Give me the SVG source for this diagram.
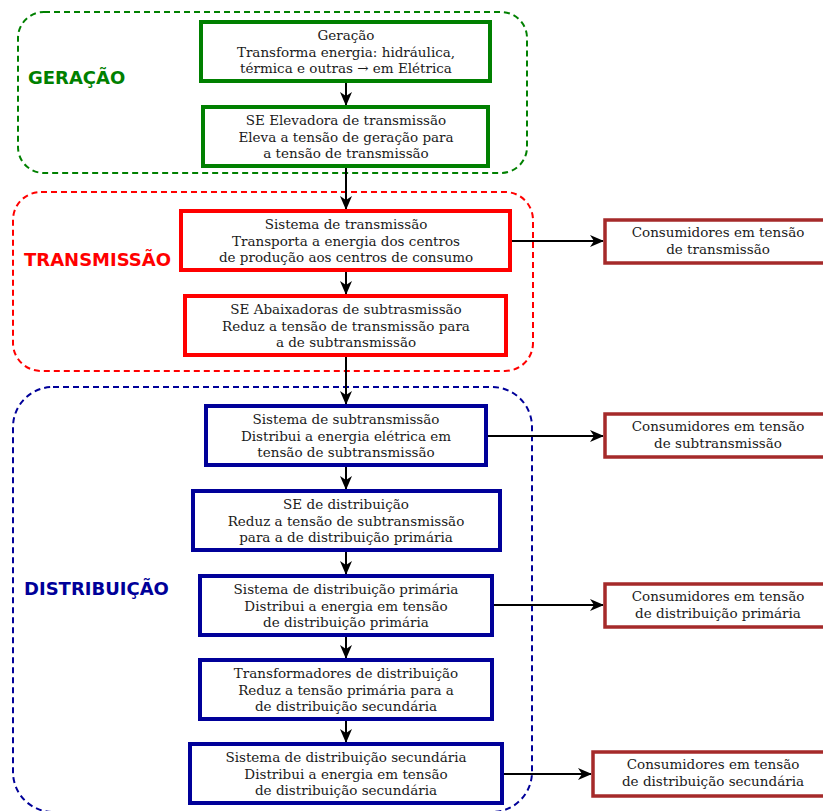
<svg xmlns="http://www.w3.org/2000/svg" width="823" height="811" viewBox="0 0 823 811">
  <style>
    .grp { fill: none; stroke-width: 2; stroke-dasharray: 6 4; }
    .box { fill: #ffffff; stroke-width: 4; }
    .cons { fill: #ffffff; stroke: #a52a2a; stroke-width: 3.5; }
    .txt { font-family: "DejaVu Serif", "Liberation Serif", serif; font-size: 13.5px; fill: #1a1a1a; text-anchor: middle; }
    .lbl { font-family: "DejaVu Sans", "Liberation Sans", sans-serif; font-size: 18px; font-weight: bold; }
    .gen { stroke: #008000; }
    .tra { stroke: #ff0000; }
    .dis { stroke: #000099; }
    .edge { fill: none; stroke: #000000; stroke-width: 2; marker-end: url(#arrow); }
  </style>
  <defs>
    <marker id="arrow" viewBox="0 0 14 12" refX="13" refY="6" markerWidth="14" markerHeight="12" markerUnits="userSpaceOnUse" orient="auto">
      <path d="M0,0 L14,6 L0,12 L4,6 Z" fill="#000000"/>
    </marker>
  </defs>

  <rect width="823" height="811" fill="#ffffff"/>

  <!-- stage groupings -->
  <g id="stage-geracao">
    <rect class="grp gen" x="18" y="12" width="509" height="161" rx="26"/>
    <text class="lbl" x="28" y="84" fill="#008000">GERAÇÃO</text>
  </g>
  <g id="stage-transmissao">
    <rect class="grp tra" x="13" y="192" width="520" height="179" rx="28"/>
    <text class="lbl" x="24" y="266" fill="#ff0000">TRANSMISSÃO</text>
  </g>
  <g id="stage-distribuicao">
    <rect class="grp dis" x="13" y="387" width="519" height="425" rx="40"/>
    <text class="lbl" x="24" y="595" fill="#000099">DISTRIBUIÇÃO</text>
  </g>

  <!-- connectors -->
  <g id="connectors">
    <line class="edge" x1="346" y1="83" x2="346" y2="105"/>
    <line class="edge" x1="346" y1="168" x2="346" y2="209"/>
    <line class="edge" x1="346" y1="272" x2="346" y2="294"/>
    <line class="edge" x1="346" y1="357" x2="346" y2="404"/>
    <line class="edge" x1="346" y1="467" x2="346" y2="489"/>
    <line class="edge" x1="346" y1="552" x2="346" y2="574"/>
    <line class="edge" x1="346" y1="637" x2="346" y2="658"/>
    <line class="edge" x1="346" y1="721" x2="346" y2="742"/>
    <line class="edge" x1="512" y1="241" x2="603" y2="241"/>
    <line class="edge" x1="488" y1="436" x2="603" y2="436"/>
    <line class="edge" x1="494" y1="605" x2="603" y2="605"/>
    <line class="edge" x1="504" y1="774" x2="591" y2="774"/>
  </g>

  <!-- main chain -->
  <g id="n-geracao">
    <rect class="box gen" x="201" y="22" width="289" height="59"/>
    <text class="txt" x="346" y="40">Geração</text>
    <text class="txt" x="346" y="56.5">Transforma energia: hidráulica,</text>
    <text class="txt" x="346" y="73">térmica e outras → em Elétrica</text>
  </g>
  <g id="n-se-elevadora">
    <rect class="box gen" x="203" y="107" width="285" height="59"/>
    <text class="txt" x="346" y="125">SE Elevadora de transmissão</text>
    <text class="txt" x="346" y="141.5">Eleva a tensão de geração para</text>
    <text class="txt" x="346" y="158">a tensão de transmissão</text>
  </g>
  <g id="n-transmissao">
    <rect class="box tra" x="181" y="211" width="329" height="59"/>
    <text class="txt" x="346" y="229">Sistema de transmissão</text>
    <text class="txt" x="346" y="245.5">Transporta a energia dos centros</text>
    <text class="txt" x="346" y="262">de produção aos centros de consumo</text>
  </g>
  <g id="n-se-abaixadora">
    <rect class="box tra" x="185" y="296" width="321" height="59"/>
    <text class="txt" x="346" y="314">SE Abaixadoras de subtrasmissão</text>
    <text class="txt" x="346" y="330.5">Reduz a tensão de transmissão para</text>
    <text class="txt" x="346" y="347">a de subtransmissão</text>
  </g>
  <g id="n-subtransmissao">
    <rect class="box dis" x="206" y="406" width="280" height="59"/>
    <text class="txt" x="346" y="424">Sistema de subtransmissão</text>
    <text class="txt" x="346" y="440.5">Distribui a energia elétrica em</text>
    <text class="txt" x="346" y="457">tensão de subtransmissão</text>
  </g>
  <g id="n-se-distribuicao">
    <rect class="box dis" x="193" y="491" width="307" height="59"/>
    <text class="txt" x="346" y="509">SE de distribuição</text>
    <text class="txt" x="346" y="525.5">Reduz a tensão de subtransmissão</text>
    <text class="txt" x="346" y="542">para a de distribuição primária</text>
  </g>
  <g id="n-dist-primaria">
    <rect class="box dis" x="200" y="576" width="292" height="59"/>
    <text class="txt" x="346" y="594">Sistema de distribuição primária</text>
    <text class="txt" x="346" y="610.5">Distribui a energia em tensão</text>
    <text class="txt" x="346" y="627">de distribuição primária</text>
  </g>
  <g id="n-transformadores">
    <rect class="box dis" x="200" y="660" width="292" height="59"/>
    <text class="txt" x="346" y="678">Transformadores de distribuição</text>
    <text class="txt" x="346" y="694.5">Reduz a tensão primária para a</text>
    <text class="txt" x="346" y="711">de distribuição secundária</text>
  </g>
  <g id="n-dist-secundaria">
    <rect class="box dis" x="190" y="744" width="312" height="59"/>
    <text class="txt" x="346" y="762">Sistema de distribuição secundária</text>
    <text class="txt" x="346" y="778.5">Distribui a energia em tensão</text>
    <text class="txt" x="346" y="795">de distribuição secundária</text>
  </g>

  <!-- consumers -->
  <g id="c-transmissao">
    <rect class="cons" x="605" y="220" width="226" height="43"/>
    <text class="txt" x="718" y="237">Consumidores em tensão</text>
    <text class="txt" x="718" y="254">de transmissão</text>
  </g>
  <g id="c-subtransmissao">
    <rect class="cons" x="605" y="414" width="226" height="43"/>
    <text class="txt" x="718" y="431">Consumidores em tensão</text>
    <text class="txt" x="718" y="448">de subtransmissão</text>
  </g>
  <g id="c-primaria">
    <rect class="cons" x="605" y="584" width="226" height="43"/>
    <text class="txt" x="718" y="601">Consumidores em tensão</text>
    <text class="txt" x="718" y="618">de distribuição primária</text>
  </g>
  <g id="c-secundaria">
    <rect class="cons" x="593" y="752" width="240" height="44"/>
    <text class="txt" x="713" y="769">Consumidores em tensão</text>
    <text class="txt" x="713" y="786">de distribuição secundária</text>
  </g>
</svg>
